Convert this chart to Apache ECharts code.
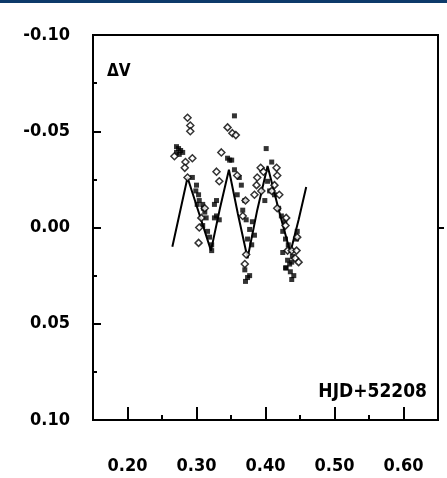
<!DOCTYPE html>
<html>
<head>
<meta charset="utf-8">
<script src="https://cdn.jsdelivr.net/npm/echarts@6/dist/echarts.min.js"></script>
<style>
html,body{margin:0;padding:0;background:#fff;}
#c{width:447px;height:478px;}
</style>
</head>
<body>
<div id="c"></div>
<script>
// Model light curve (phase, deltaV)
const modelX = [0.265, 0.287, 0.304, 0.321, 0.334, 0.347, 0.360, 0.374, 0.388, 0.403, 0.420, 0.436, 0.448, 0.459];
const modelY = [0.010, -0.026, -0.007, 0.012, -0.010, -0.030, -0.007, 0.016, -0.009, -0.032, -0.008, 0.013, -0.004, -0.021];

// Filled squares
const filledX = [0.271,0.274,0.277,0.280,0.275,0.271,0.294,
  0.300,0.303,0.304,0.309,0.312,0.314,0.309,0.316,0.319,0.322,0.322,0.310,0.299,0.301,0.326,0.329,0.333,0.329,0.326,
  0.355,0.345,0.348,0.351,0.355,0.362,0.365,0.359,0.370,0.367,0.372,0.377,0.374,0.380,0.384,0.381,0.374,0.371,0.377,0.370,
  0.401,0.409,0.403,0.406,0.399,0.413,0.419,0.423,0.428,0.425,0.429,0.433,0.425,0.432,0.435,0.429,0.438,0.439,0.436,0.430,0.441,0.438,0.446,0.445];
const filledY = [-0.042,-0.041,-0.040,-0.039,-0.038,-0.039,-0.026,
  -0.022,-0.017,-0.014,-0.012,-0.008,-0.005,-0.001,0.002,0.005,0.009,0.012,-0.010,-0.019,-0.012,-0.005,-0.006,-0.004,-0.014,-0.012,
  -0.058,-0.036,-0.035,-0.035,-0.030,-0.026,-0.022,-0.017,-0.014,-0.009,-0.004,0.001,0.006,0.009,0.004,-0.003,0.026,0.028,0.025,0.022,
  -0.041,-0.034,-0.024,-0.019,-0.014,-0.017,-0.010,-0.006,-0.003,0.002,0.006,0.009,0.013,0.017,0.019,0.021,0.018,0.015,0.023,0.021,0.025,0.027,0.002,0.006];

// Open diamonds
const openX = [0.287,0.291,0.291,0.268,0.284,0.294,0.283,0.287,0.307,0.304,0.312,0.303,
  0.345,0.352,0.357,0.336,0.329,0.333,0.359,0.371,0.367,0.370,0.372,
  0.393,0.397,0.388,0.394,0.384,0.387,0.416,0.417,0.413,0.409,0.420,0.417,0.430,0.429,0.432,0.438,0.445,0.443,0.448,0.446];
const openY = [-0.057,-0.053,-0.050,-0.037,-0.034,-0.036,-0.031,-0.026,-0.005,0.000,-0.010,0.008,
  -0.052,-0.049,-0.048,-0.039,-0.029,-0.024,-0.027,-0.014,-0.006,0.019,0.014,
  -0.031,-0.029,-0.026,-0.019,-0.017,-0.022,-0.031,-0.027,-0.022,-0.019,-0.017,-0.010,-0.005,-0.001,0.012,0.012,0.012,0.016,0.018,0.005];

const xTicks = [0.2, 0.3, 0.4, 0.5, 0.6];
const xMinorTicks = [0.25, 0.35, 0.45, 0.55];
const yTicks = [-0.10, -0.05, 0.00, 0.05, 0.10];
const yMinorTicks = [-0.075, -0.025, 0.025, 0.075];
const yLabel = '\u0394V';
const dateLabel = 'HJD+52208';

const zip = (a, b) => a.map((v, i) => [v, b[i]]);
const FONT = "'Liberation Sans Narrow', 'DejaVu Sans Condensed', 'Liberation Sans', sans-serif";
const tickStyle = {color: '#000', width: 2};

const chart = echarts.init(document.getElementById('c'), null, {renderer: 'canvas'});
chart.setOption({
  animation: false,
  backgroundColor: '#ffffff',
  grid: {left: 93, top: 35, right: 9, bottom: 58, show: true, borderColor: '#000', borderWidth: 2, backgroundColor: 'transparent'},
  xAxis: [{
    type: 'value', min: 0.15, max: 0.65, position: 'bottom',
    axisLine: {show: false, onZero: false},
    axisTick: {show: true, inside: true, length: 13, lineStyle: tickStyle, customValues: xTicks},
    splitLine: {show: false},
    axisLabel: {customValues: xTicks, margin: 37, color: '#000', fontFamily: FONT, fontWeight: 'bold', fontSize: 18,
      formatter: v => v.toFixed(2)}
  }, {
    type: 'value', min: 0.15, max: 0.65, position: 'bottom',
    axisLine: {show: false, onZero: false},
    axisTick: {show: true, inside: true, length: 5, lineStyle: tickStyle, customValues: xMinorTicks},
    splitLine: {show: false},
    axisLabel: {show: false}
  }],
  yAxis: [{
    type: 'value', min: -0.10, max: 0.10, interval: 0.05, inverse: true, position: 'left',
    axisLine: {show: false, onZero: false},
    axisTick: {show: true, inside: true, length: 8, lineStyle: tickStyle, customValues: yTicks},
    splitLine: {show: false},
    axisLabel: {customValues: yTicks, margin: 23, color: '#000', fontFamily: FONT, fontWeight: 'bold', fontSize: 18,
      formatter: v => v.toFixed(2)}
  }, {
    type: 'value', min: -0.10, max: 0.10, inverse: true, position: 'left',
    axisLine: {show: false, onZero: false},
    axisTick: {show: true, inside: true, length: 4, lineStyle: tickStyle, customValues: yMinorTicks},
    axisLabel: {show: false},
    splitLine: {show: false}
  }, {
    type: 'value', min: -0.10, max: 0.10, inverse: true, position: 'right',
    axisLine: {show: false, onZero: false},
    axisTick: {show: true, inside: false, length: 6, lineStyle: tickStyle, customValues: [0]},
    axisLabel: {show: false},
    splitLine: {show: false}
  }],
  graphic: [
    {type: 'rect', left: 0, top: 0, shape: {width: 447, height: 3}, style: {fill: '#0d3a6a'}},
    {type: 'text', left: 107, top: 63, style: {text: yLabel, fill: '#000', font: 'bold 17px ' + FONT}},
    {type: 'text', right: 20, top: 383, style: {text: dateLabel, fill: '#000', font: 'bold 19px ' + FONT}}
  ],
  series: [
    {type: 'line', data: zip(modelX, modelY), showSymbol: false, lineStyle: {color: '#000', width: 2}, z: 2},
    {type: 'scatter', data: zip(filledX, filledY), symbol: 'rect', symbolSize: 5, itemStyle: {color: '#000'}, z: 3},
    {type: 'scatter', data: zip(openX, openY), symbol: 'diamond', symbolSize: 7, itemStyle: {color: '#fff', borderColor: '#000', borderWidth: 1.5}, z: 4}
  ]
});
</script>
</body>
</html>
